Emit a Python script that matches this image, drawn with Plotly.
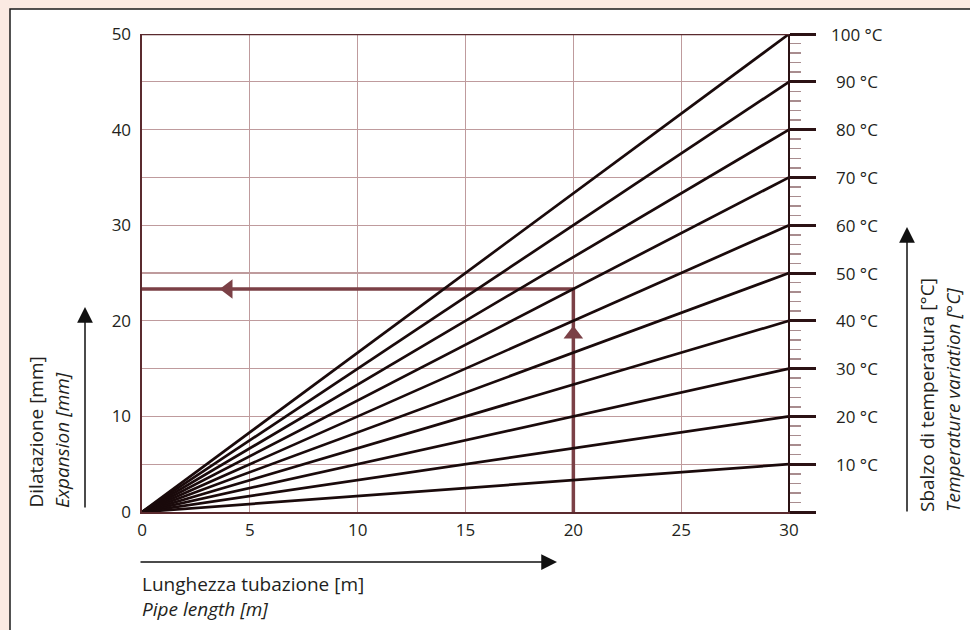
import plotly.graph_objects as go

# ---- data ----
pipe_length = [0, 30]                       # m
temp_steps = [10, 20, 30, 40, 50, 60, 70, 80, 90, 100]   # °C
expansion_at_30m = [5, 10, 15, 20, 25, 30, 35, 40, 45, 50]  # mm at 30 m
x_ticks = [0, 5, 10, 15, 20, 25, 30]
y_ticks = [0, 10, 20, 30, 40, 50]
temp_labels = ["10 °C", "20 °C", "30 °C", "40 °C", "50 °C", "60 °C", "70 °C", "80 °C", "90 °C", "100 °C"]
example_path_x = [20, 20, 0]
example_path_y = [0, 23.33, 23.33]
example_arrow_up = (20, 18.6)
example_arrow_left = (4.0, 23.33)

W, H = 970, 630
FONT = "Open Sans"
TXT = "#231f20"
DARK = "#2b1214"
AXIS = "#5a2a2e"
GRID = "#bf9b9d"
MAROON = "#7b4046"
LINE = "#1a0a0b"
TICK_SIZE = 17
TITLE_SIZE = 19

fig = go.Figure()

# example reading path
fig.add_trace(go.Scatter(x=example_path_x, y=example_path_y, mode="lines",
                         line=dict(color=MAROON, width=3.5), hoverinfo="skip", showlegend=False))

# temperature lines
for t, e in zip(temp_steps, expansion_at_30m):
    fig.add_trace(go.Scatter(x=pipe_length, y=[0, e], mode="lines", name=f"{t} °C",
                             line=dict(color=LINE, width=2.7), showlegend=False))

# arrowheads of the example
fig.add_trace(go.Scatter(x=[example_arrow_up[0]], y=[example_arrow_up[1]], mode="markers",
                         marker=dict(symbol="triangle-up", size=17, color=MAROON),
                         hoverinfo="skip", showlegend=False))
fig.add_trace(go.Scatter(x=[example_arrow_left[0]], y=[example_arrow_left[1]], mode="markers",
                         marker=dict(symbol="triangle-left", size=17, color=MAROON),
                         hoverinfo="skip", showlegend=False))

# invisible trace for the temperature axis
fig.add_trace(go.Scatter(x=[30], y=[0], yaxis="y2", mode="markers", marker=dict(opacity=0),
                         hoverinfo="skip", showlegend=False))

x_dom = [142 / W, 816 / W]
y_dom = [1 - 512 / H, 1 - 34 / H]
x_range = [0, 31.25]
x30_pos = x_dom[0] + (30 - x_range[0]) / (x_range[1] - x_range[0]) * (x_dom[1] - x_dom[0])

fig.update_layout(
    template="none",
    width=W, height=H,
    margin=dict(l=0, r=0, t=0, b=0, pad=0, autoexpand=False),
    paper_bgcolor="#fbeae2",
    plot_bgcolor="white",
    font=dict(family=FONT, size=TICK_SIZE, color=TXT),
    showlegend=False,
    hovermode=False,
    xaxis=dict(domain=x_dom, range=x_range, tickmode="array", tickvals=x_ticks,
               showgrid=True, gridcolor=GRID, gridwidth=1.2,
               showline=True, linecolor=AXIS, linewidth=2, zeroline=False,
               ticks="outside", ticklen=2, tickcolor="rgba(0,0,0,0)", automargin=False,
               tickfont=dict(size=TICK_SIZE, color=TXT), fixedrange=True),
    yaxis=dict(domain=y_dom, range=[0, 50], tickmode="array", tickvals=y_ticks,
               showgrid=True, gridcolor=GRID, gridwidth=1.2,
               minor=dict(tickmode="linear", tick0=0, dtick=5, showgrid=True,
                          gridcolor=GRID, gridwidth=1.2, ticks=""),
               showline=True, linecolor=AXIS, linewidth=2.5, zeroline=False,
               ticks="outside", ticklen=5, tickcolor="rgba(0,0,0,0)", automargin=False,
               tickfont=dict(size=TICK_SIZE, color=TXT), fixedrange=True),
    yaxis2=dict(overlaying="y", anchor="free", position=x30_pos, side="right",
                range=[0, 50], tickmode="linear", tick0=0, dtick=5,
                showgrid=False, zeroline=False, showticklabels=False,
                showline=True, linecolor=DARK, linewidth=2, automargin=False,
                ticks="outside", ticklen=26, tickwidth=3, tickcolor=DARK,
                minor=dict(tickmode="linear", tick0=0, dtick=1, ticks="outside",
                           ticklen=11, tickwidth=1.5, tickcolor="#a88c8e"),
                fixedrange=True),
)

# top border line of the chart
fig.add_shape(type="line", xref="x", yref="y", x0=0, x1=30, y0=50, y1=50,
              line=dict(color=AXIS, width=2.5), layer="above")

# white panel with border
fig.add_shape(type="rect", xref="paper", yref="paper", x0=10 / W, x1=1.02, y0=-0.02, y1=1 - 9 / H,
              line=dict(color="#1a1a1a", width=1.5), fillcolor="white", layer="below")

# temperature labels
for e, lab in zip(expansion_at_30m, temp_labels):
    fig.add_annotation(x=30, y=e, xref="x", yref="y", text=lab, showarrow=False,
                       xshift=68, xanchor="center", yanchor="middle",
                       font=dict(size=TICK_SIZE, color=TXT))

def px_x(p):
    return p / W

def px_y(p):
    return 1 - p / H

tfont = dict(size=TITLE_SIZE, color=TXT, family=FONT)
# axis titles
fig.add_annotation(x=px_x(35), y=px_y(510), xref="paper", yref="paper", text="Dilatazione [mm]",
                   textangle=-90, showarrow=False, xanchor="center", yanchor="bottom", font=tfont)
fig.add_annotation(x=px_x(62), y=px_y(510), xref="paper", yref="paper", text="<i>Expansion [mm]</i>",
                   textangle=-90, showarrow=False, xanchor="center", yanchor="bottom", font=tfont)
fig.add_annotation(x=px_x(927), y=px_y(514), xref="paper", yref="paper", text="Sbalzo di temperatura [°C]",
                   textangle=-90, showarrow=False, xanchor="center", yanchor="bottom", font=tfont)
fig.add_annotation(x=px_x(953), y=px_y(514), xref="paper", yref="paper", text="<i>Temperature variation [°C]</i>",
                   textangle=-90, showarrow=False, xanchor="center", yanchor="bottom", font=tfont)
fig.add_annotation(x=px_x(140), y=px_y(596), xref="paper", yref="paper",
                   text="Lunghezza tubazione [m]<br><i>Pipe length [m]</i>",
                   showarrow=False, xanchor="left", yanchor="middle", align="left", font=tfont)

# direction arrows
arrow_style = dict(showarrow=True, arrowhead=2, arrowsize=2.1, arrowwidth=1.5, arrowcolor="#111111",
                   text="", xref="paper", yref="paper", axref="pixel", ayref="pixel")
fig.add_annotation(x=px_x(85), y=px_y(307), ax=0, ay=202, **arrow_style)
fig.add_annotation(x=px_x(907), y=px_y(227), ax=0, ay=286, **arrow_style)
fig.add_annotation(x=px_x(557), y=px_y(562), ax=-418, ay=0, **arrow_style)

fig.write_html("out.html", config={"displayModeBar": False, "staticPlot": True},
               post_script="document.body.style.margin='0';document.body.style.overflow='hidden';")
